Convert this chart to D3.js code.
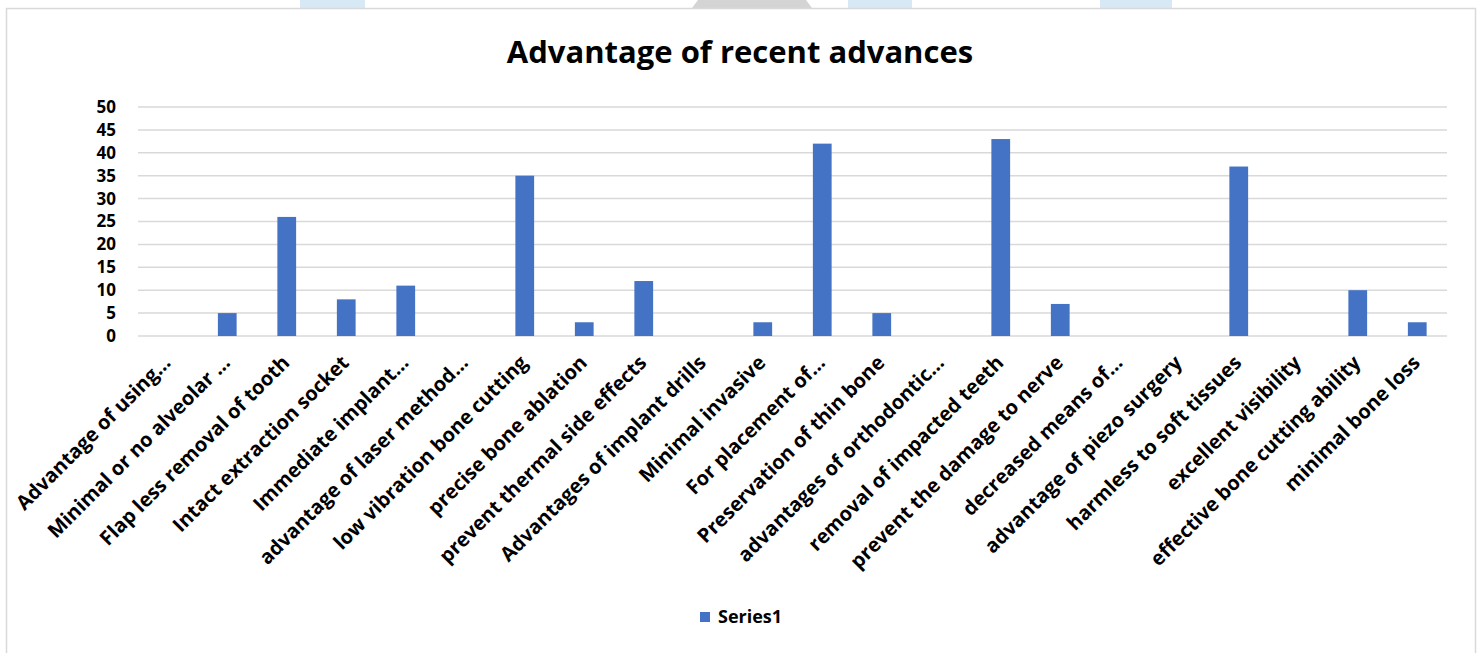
<!DOCTYPE html>
<html>
<head>
<meta charset="utf-8">
<script src="https://cdn.jsdelivr.net/npm/d3@7"></script>
<style>
	html, body { margin: 0; padding: 0; background: #fff; }
	svg { display: block; }
	text { font-family: "Open Sans", sans-serif; font-weight: bold; }
</style>
</head>
<body>
<div id="chart"></div>
<script>
const categories = [
	"Advantage of using…", "Minimal or no alveolar …", "Flap less removal of tooth",
	"Intact extraction socket", "Immediate implant…", "advantage of laser method…",
	"low vibration bone cutting", "precise bone ablation", "prevent thermal side effects",
	"Advantages of implant drills", "Minimal invasive", "For placement of…",
	"Preservation of thin bone", "advantages of orthodontic…", "removal of impacted teeth",
	"prevent the damage to nerve", "decreased means of…", "advantage of piezo surgery",
	"harmless to soft tissues", "excellent visibility", "effective bone cutting ability",
	"minimal bone loss"
];
const series1 = [0, 5, 26, 8, 11, 0, 35, 3, 12, 0, 3, 42, 5, 0, 43, 7, 0, 0, 37, 0, 10, 3];
const yTicks = [0, 5, 10, 15, 20, 25, 30, 35, 40, 45, 50];
const seriesName = "Series1";
const chartTitle = "Advantage of recent advances";

const width = 1480, height = 653;
const margin = {top: 107, right: 33, bottom: 317, left: 138};

const svg = d3.select("#chart")
	.append("svg")
	.attr("width", width)
	.attr("height", height);

// page bits peeking above the chart frame
const deco = svg.append("g");
[[300, 365, "#d6e9f4"], [848, 912, "#d6e9f4"], [1100, 1172, "#d6e9f4"]].forEach(d => {
	deco.append("rect").attr("x", d[0]).attr("y", 0).attr("width", d[1] - d[0]).attr("height", 8).attr("fill", d[2]);
});
deco.append("path").attr("d", "M692,8 L698,0 L806,0 L812,8 Z").attr("fill", "#d4d4d4");

// chart frame
svg.append("rect")
	.attr("x", 6.5).attr("y", 8.5)
	.attr("width", 1469).attr("height", 660)
	.attr("fill", "#fff")
	.attr("stroke", "#d9d9d9")
	.attr("stroke-width", 1.5);

const x = d3.scaleBand()
	.domain(categories)
	.range([margin.left, width - margin.right])
	.paddingInner(0.685)
	.paddingOuter(0.3425);

const y = d3.scaleLinear()
	.domain([0, 50])
	.range([height - margin.bottom, margin.top]);

svg.append("text")
	.attr("x", 740)
	.attr("y", 63)
	.attr("text-anchor", "middle")
	.attr("font-size", 31)
	.attr("fill", "#000")
	.text(chartTitle);

// gridlines
svg.append("g")
	.selectAll("line")
	.data(yTicks)
	.join("line")
	.attr("x1", margin.left)
	.attr("x2", width - margin.right)
	.attr("y1", d => y(d))
	.attr("y2", d => y(d))
	.attr("stroke", "#d9d9d9")
	.attr("stroke-width", 1.5);

// y axis labels
const yAxis = svg.append("g")
	.attr("transform", `translate(${margin.left - 22},0)`)
	.call(d3.axisLeft(y).tickValues(yTicks).tickSize(0).tickPadding(0));
yAxis.select(".domain").remove();
yAxis.selectAll("text")
	.attr("font-size", 17)
	.attr("fill", "#000")
	.style("font-family", "'Open Sans', sans-serif")
	.style("font-weight", "bold");

// bars
svg.append("g")
	.selectAll("rect")
	.data(series1)
	.join("rect")
	.attr("x", (d, i) => x(categories[i]))
	.attr("y", d => y(d))
	.attr("width", x.bandwidth())
	.attr("height", d => y(0) - y(d))
	.attr("fill", "#4472c4");

// x labels
svg.append("g")
	.selectAll("text")
	.data(categories)
	.join("text")
	.attr("text-anchor", "end")
	.attr("font-size", 20)
	.attr("fill", "#000")
	.attr("transform", d => `translate(${x(d) + x.bandwidth() / 2 + 4},${y(0) + 28}) rotate(-45)`)
	.text(d => d);

// legend
const legend = svg.append("g").attr("transform", "translate(700,612)");
legend.append("rect").attr("width", 10).attr("height", 10).attr("fill", "#4472c4");
legend.append("text")
	.attr("x", 18)
	.attr("y", 11)
	.attr("font-size", 18)
	.attr("fill", "#000")
	.text(seriesName);
</script>
</body>
</html>
